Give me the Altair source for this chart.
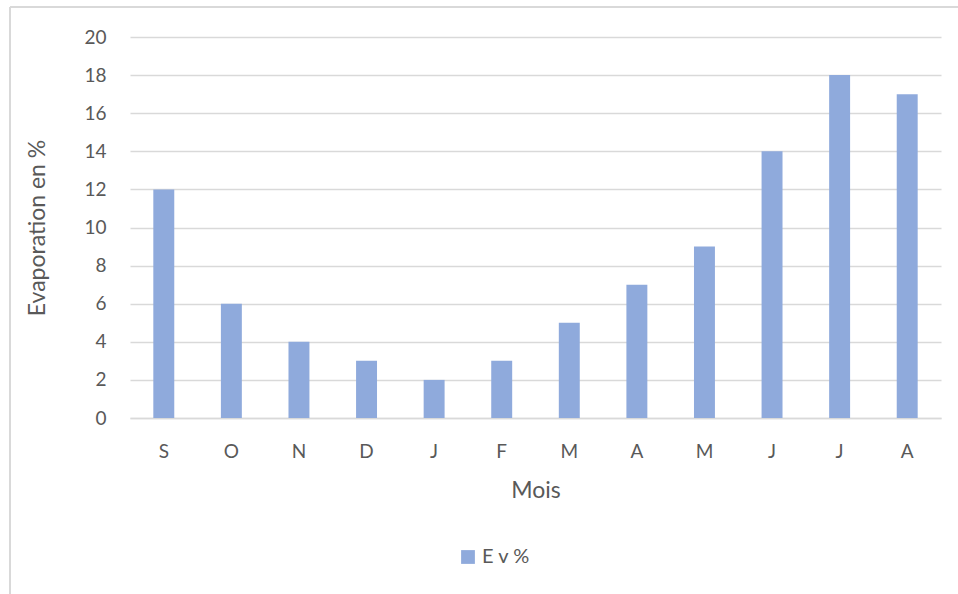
import altair as alt
import pandas as pd

months = ["S", "O", "N", "D", "J", "F", "M", "A", "M", "J", "J", "A"]
values = [12, 6, 4, 3, 2, 3, 5, 7, 9, 14, 18, 17]
series_name = "E v %"

df = pd.DataFrame({
    "idx": list(range(len(months))),
    "mois": months,
    "val": values,
    "serie": [series_name] * len(months),
})

label_expr = "[" + ",".join('"%s"' % m for m in months) + "][datum.value]"

FONT = "Lato"
TXT = "#595959"
GRID = "#D9D9D9"

bars = alt.Chart(df).mark_bar(color="#8FAADC").encode(
    x=alt.X("idx:O", title="Mois",
            scale=alt.Scale(paddingInner=0.69, paddingOuter=0.345),
            axis=alt.Axis(labelExpr=label_expr, labelAngle=0, labelPadding=24,
                          ticks=False, domainColor=GRID, domainWidth=1.5,
                          labelFontSize=19, titleFontSize=23, titlePadding=18,
                          labelColor=TXT, titleColor=TXT, titleFontWeight="normal",
                          labelFont=FONT, titleFont=FONT)),
    y=alt.Y("val:Q", title="Evaporation en %",
            scale=alt.Scale(domain=[0, 20]),
            axis=alt.Axis(values=list(range(0, 21, 2)), domain=False, ticks=False,
                          gridColor=GRID, gridWidth=1.5, labelPadding=24,
                          labelFontSize=19, titleFontSize=23, titlePadding=34,
                          labelColor=TXT, titleColor=TXT, titleFontWeight="normal",
                          labelFont=FONT, titleFont=FONT)),
    fill=alt.Fill("serie:N", scale=alt.Scale(range=["#8FAADC"]),
                  legend=alt.Legend(title=None, orient="none", legendX=328, legendY=510,
                                    symbolType="square", symbolSize=190,
                                    labelFontSize=20, labelColor=TXT, labelFont=FONT,
                                    symbolStrokeWidth=0)),
)

frame_left = alt.Chart(df).mark_rule(color=GRID, strokeWidth=1.5).encode(
    x=alt.value(-120), y=alt.value(-30), y2=alt.value(600))
frame_top = alt.Chart(df).mark_rule(color=GRID, strokeWidth=1.5).encode(
    x=alt.value(-120), x2=alt.value(900), y=alt.value(-30))

chart = alt.layer(frame_left, frame_top, bars).properties(
    width=811, height=381,
    autosize=alt.AutoSizeParams(type="none"),
    padding={"left": 130, "top": 37, "right": 17, "bottom": 176},
).configure(background="white").configure_view(stroke="transparent", strokeOpacity=0)

chart.save("out.html", embed_options={"renderer": "svg", "actions": False})
